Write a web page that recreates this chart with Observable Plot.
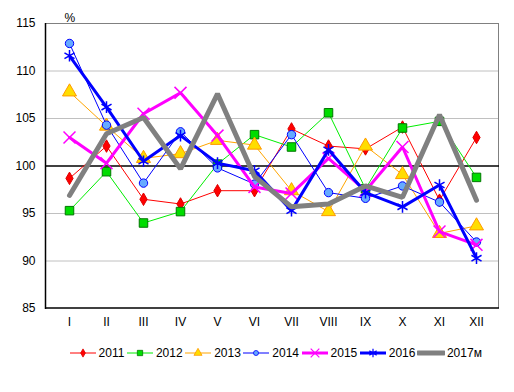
<!DOCTYPE html>
<html>
<head>
<meta charset="utf-8">
<script src="https://cdn.jsdelivr.net/npm/d3@7"></script>
<script src="https://cdn.jsdelivr.net/npm/@observablehq/plot@0.6"></script>
<style>
  html, body { margin: 0; padding: 0; background: #fff; }
  body { width: 514px; height: 392px; font-family: "Liberation Sans", Arial, sans-serif; }
  #legend { display: flex; justify-content: center; align-items: center; margin-top: 6px; margin-left: 38px; font-size: 12px; color: #000; }
  #legend .item { display: flex; align-items: center; margin-right: 1.5px; }
  #legend svg { display: block; margin-right: 2px; }
</style>
</head>
<body>
<div id="chart"></div>
<div id="legend"></div>
<script>
const months = ["I","II","III","IV","V","VI","VII","VIII","IX","X","XI","XII"];
const seriesNames = ["2011","2012","2013","2014","2015","2016","2017м"];
const v2011 = [98.7, 102.1, 96.5, 96.0, 97.4, 97.4, 103.9, 102.1, 101.8, 104.1, 96.4, 103.0];
const v2012 = [95.3, 99.4, 94.0, 95.2, 100.2, 103.3, 102.0, 105.6, 97.6, 104.0, 104.7, 98.8];
const v2013 = [107.8, 104.2, 100.8, 101.3, 102.7, 102.2, 97.4, 95.2, 102.1, 99.1, 92.9, 93.7];
const v2014 = [112.9, 104.3, 98.2, 103.6, 99.8, 98.1, 103.3, 97.2, 96.6, 97.9, 96.2, 92.0];
const v2015 = [103.0, 100.3, 105.5, 107.7, 103.2, 97.8, 97.1, 100.8, 97.4, 102.0, 93.1, 91.7];
const v2016 = [111.6, 106.2, 100.5, 103.2, 100.3, 99.5, 95.3, 101.7, 97.2, 95.7, 98.0, 90.3];
const v2017 = [96.9, 103.4, 105.1, 99.7, 107.6, 98.9, 95.7, 96.0, 97.9, 96.7, 105.4, 96.4];
const yTicks = [85, 90, 95, 100, 105, 110, 115];
const gridTicks = [90, 95, 105, 110];
const allValues = [v2011, v2012, v2013, v2014, v2015, v2016, v2017];

// styles (kept separate from data)
const styles = {
  "2011": {line: "#ff0000", w: 1, symbol: "diamond", r: 3.8, fill: "#ff0000", stroke: "#dd0000", lr: 2.5},
  "2012": {line: "#00ee00", w: 1, symbol: "square", r: 4.8, fill: "#00dd00", stroke: "#007700", lr: 3},
  "2013": {line: "#ffa500", w: 1, symbol: "triangle", r: 5.2, fill: "#ffdd00", stroke: "#ff9900", lr: 3},
  "2014": {line: "#0000ff", w: 1, symbol: "circle", r: 4.2, fill: "#66aaff", stroke: "#0000ff", lr: 2.5},
  "2015": {line: "#ff00ff", w: 3, symbol: "times", r: 5.5, fill: "none", stroke: "#ff00ff", lr: 4},
  "2016": {line: "#0000ff", w: 3, symbol: "asterisk", r: 5.5, fill: "none", stroke: "#0000ff", lr: 4},
  "2017м": {line: "#808080", w: 5, symbol: null}
};

const data = [];
seriesNames.forEach((s, i) => months.forEach((m, j) => data.push({series: s, month: m, value: allValues[i][j]})));

function frameLines(...args) {
  const dims = args.find(a => a && typeof a === "object" && "marginLeft" in a && "width" in a);
  const g = d3.create("svg:g");
  const x0 = dims.marginLeft, x1 = dims.width - dims.marginRight;
  const y0 = dims.marginTop, y1 = dims.height - dims.marginBottom;
  g.append("line").attr("x1", x0).attr("x2", x1).attr("y1", y0 + 0.5).attr("y2", y0 + 0.5).attr("stroke", "#808080");
  g.append("line").attr("x1", x1 - 0.5).attr("x2", x1 - 0.5).attr("y1", y0).attr("y2", y1).attr("stroke", "#808080");
  g.append("line").attr("x1", x0 + 0.5).attr("x2", x0 + 0.5).attr("y1", y0).attr("y2", y1 + 1).attr("stroke", "#000").attr("stroke-width", 1.5);
  g.append("line").attr("x1", x0).attr("x2", x1).attr("y1", y1).attr("y2", y1).attr("stroke", "#000").attr("stroke-width", 1.5);
  return g.node();
}

const marks = [
  Plot.ruleY(gridTicks, {stroke: "#c0c0c0", strokeWidth: 1}),
  frameLines,
  Plot.ruleY([100], {stroke: "#000", strokeWidth: 1.5}),
  Plot.axisY({ticks: yTicks, tickSize: 0, tickPadding: 10, fontSize: 12, label: null}),
  Plot.axisX({tickSize: 0, tickPadding: 9, fontSize: 12, label: null}),
  Plot.text(["%"], {frameAnchor: "top-left", dx: 19, dy: -10, fontSize: 12, fill: "#000"})
];
seriesNames.forEach(s => {
  const st = styles[s];
  const d = data.filter(r => r.series === s);
  marks.push(Plot.line(d, {x: "month", y: "value", stroke: st.line, strokeWidth: st.w, strokeLinejoin: "miter"}));
  if (st.symbol) {
    marks.push(Plot.dot(d, {x: "month", y: "value", symbol: st.symbol, r: st.r, fill: st.fill, stroke: st.stroke, strokeWidth: st.fill === "none" ? 1.5 : 1}));
  }
});

const chart = Plot.plot({
  width: 514,
  height: 340,
  marginLeft: 45,
  marginRight: 15,
  marginTop: 23,
  marginBottom: 32,
  style: {fontFamily: "'Liberation Sans', Arial, sans-serif", fontSize: "12px", color: "#000", background: "#fff"},
  x: {type: "point", domain: months, padding: 0.5},
  y: {domain: [85, 115]},
  marks
});
document.getElementById("chart").appendChild(chart);

// Legend
const legend = d3.select("#legend");
seriesNames.forEach(s => {
  const st = styles[s];
  const item = legend.append("div").attr("class", "item");
  const svg = item.append("svg").attr("width", 28).attr("height", 14);
  svg.append("line").attr("x1", 1).attr("x2", 27).attr("y1", 7).attr("y2", 7)
    .attr("stroke", st.line).attr("stroke-width", st.w).attr("stroke-linecap", s === "2017м" ? "round" : "butt");
  if (st.symbol) {
    const sym = {diamond: d3.symbolDiamond, square: d3.symbolSquare, triangle: d3.symbolTriangle, circle: d3.symbolCircle, times: d3.symbolTimes, asterisk: d3.symbolAsterisk}[st.symbol];
    svg.append("path").attr("transform", "translate(14,7)")
      .attr("d", d3.symbol(sym, Math.PI * st.lr * st.lr)())
      .attr("fill", st.fill).attr("stroke", st.stroke).attr("stroke-width", st.fill === "none" ? 1.2 : 0.8);
  }
  item.append("span").text(s);
});
</script>
</body>
</html>
